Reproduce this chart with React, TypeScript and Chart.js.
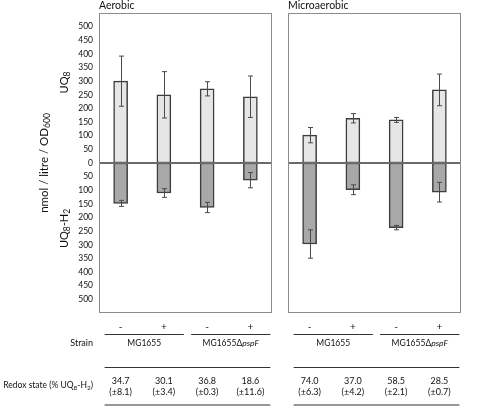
import React, { useEffect, useRef } from "react";
import { Chart, registerables } from "chart.js";

Chart.register(...registerables);

// ---------- data ----------
const panelTitles = ["Aerobic", "Microaerobic"];
const pivLabels = ["-", "+", "-", "+"];
const strainPlain = ["MG1655", "MG1655\u0394"];
const strainItalic = ["", "pspF"];

// nmol / litre / OD600 (UQ8 up, UQ8-H2 down)
const aerobicUQ8 = [300, 250, 272, 243];
const aerobicUQ8Err = [92, 85, 26, 76];
const aerobicUQ8H2 = [148, 110, 163, 63];
const aerobicUQ8H2Err = [11, 16, 19, 28];

const microUQ8 = [102, 164, 158, 268];
const microUQ8Err = [28, 17, 9, 58];
const microUQ8H2 = [297, 98, 237, 107];
const microUQ8H2Err = [52, 18, 8, 36];

// Redox state (% UQ8-H2)
const aerobicRedox = ["34.7", "30.1", "36.8", "18.6"];
const aerobicRedoxSd = ["(\u00b18.1)", "(\u00b13.4)", "(\u00b10.3)", "(\u00b111.6)"];
const microRedox = ["74.0", "37.0", "58.5", "28.5"];
const microRedoxSd = ["(\u00b16.3)", "(\u00b14.2)", "(\u00b12.1)", "(\u00b10.7)"];

const yLabelLimit = 500;
const yRange = 550;
const yStep = 50;

// ---------- styles ----------
const FONT = "Lato, 'Open Sans', sans-serif";
const TEXT = "#111111";
const LIGHT = "#e6e6e6";
const DARK = "#a8a8a8";
const EDGE = "#3c3c3c";

type Part = { t: string; sub?: boolean; it?: boolean };

function drawParts(
  ctx: CanvasRenderingContext2D,
  parts: Part[],
  x: number,
  y: number,
  size: number,
  align: "left" | "center" | "right"
) {
  const fontFor = (p: Part) =>
    `${p.it ? "italic " : ""}${p.sub ? Math.round(size * 0.75 * 2) / 2 : size}px ${FONT}`;
  let w = 0;
  parts.forEach((p) => {
    ctx.font = fontFor(p);
    w += ctx.measureText(p.t).width;
  });
  let cx = align === "left" ? x : align === "center" ? x - w / 2 : x - w;
  ctx.textAlign = "left";
  ctx.textBaseline = "middle";
  parts.forEach((p) => {
    ctx.font = fontFor(p);
    ctx.fillText(p.t, cx, p.sub ? y + size * 0.3 : y);
    cx += ctx.measureText(p.t).width;
  });
}

function drawRotated(
  ctx: CanvasRenderingContext2D,
  parts: Part[],
  x: number,
  y: number,
  size: number
) {
  ctx.save();
  ctx.translate(x, y);
  ctx.rotate(-Math.PI / 2);
  drawParts(ctx, parts, 0, 0, size, "center");
  ctx.restore();
}

function hLine(ctx: CanvasRenderingContext2D, x1: number, x2: number, y: number) {
  ctx.beginPath();
  ctx.moveTo(x1, y);
  ctx.lineTo(x2, y);
  ctx.stroke();
}

const marksPlugin = {
  id: "marks",
  afterDatasetsDraw(chart: any) {
    const { ctx, chartArea } = chart;
    const ys = chart.scales.y;
    ctx.save();
    // zero line
    const y0 = ys.getPixelForValue(0);
    ctx.strokeStyle = "#6a6a6a";
    ctx.lineWidth = 2;
    hLine(ctx, chartArea.left, chartArea.right, y0);
    // error bars
    ctx.strokeStyle = "#4a4a4a";
    ctx.lineWidth = 1;
    chart.data.datasets.forEach((ds: any, di: number) => {
      const meta = chart.getDatasetMeta(di);
      ds.data.forEach((v: number, i: number) => {
        const e = ds.errors[i];
        const x = Math.round(meta.data[i].x) + 0.5;
        const y1 = ys.getPixelForValue(v + e);
        const y2 = ys.getPixelForValue(v - e);
        ctx.beginPath();
        ctx.moveTo(x, y1);
        ctx.lineTo(x, y2);
        ctx.moveTo(x - 2.5, y1);
        ctx.lineTo(x + 2.5, y1);
        ctx.moveTo(x - 2.5, y2);
        ctx.lineTo(x + 2.5, y2);
        ctx.stroke();
      });
    });
    // panel frame
    ctx.strokeStyle = "#8c8c8c";
    ctx.lineWidth = 1;
    ctx.strokeRect(
      Math.round(chartArea.left) + 0.5,
      Math.round(chartArea.top) + 0.5,
      Math.round(chartArea.right - chartArea.left) - 1,
      Math.round(chartArea.bottom - chartArea.top) - 1
    );
    ctx.restore();
  },
};

function makeTablePlugin(panel: number, redox: string[], redoxSd: string[]) {
  return {
    id: "table" + panel,
    afterDraw(chart: any) {
      const { ctx, chartArea } = chart;
      const meta = chart.getDatasetMeta(0);
      const xs: number[] = meta.data.map((b: any) => b.x);
      ctx.save();
      ctx.fillStyle = TEXT;
      ctx.strokeStyle = "#333";
      ctx.lineWidth = 1.2;
      // panel title
      drawParts(ctx, [{ t: panelTitles[panel] }], chartArea.left, 5.5, 10.5, "left");
      // pIV row
      pivLabels.forEach((s, i) => drawParts(ctx, [{ t: s }], xs[i], 326.5, 10, "center"));
      // strain group lines and names
      for (let g = 0; g < 2; g++) {
        const a = xs[g * 2];
        const b = xs[g * 2 + 1];
        hLine(ctx, a - 16, b + 20, 334.5);
        const parts: Part[] = [{ t: strainPlain[g] }];
        if (strainItalic[g]) parts.push({ t: strainItalic[g], it: true });
        drawParts(ctx, parts, (a + b) / 2 + 2, 343.5, 8.5, "center");
      }
      // redox rows
      hLine(ctx, xs[0] - 16, xs[3] + 20, 367.5);
      redox.forEach((v, i) => {
        drawParts(ctx, [{ t: v }], xs[i], 381, 9, "center");
        drawParts(ctx, [{ t: redoxSd[i] }], xs[i], 392, 9, "center");
      });
      hLine(ctx, xs[0] - 16, xs[3] + 20, 405);

      const ys = chart.scales.y;
      if (panel === 0) {
        drawParts(ctx, [{ t: "Strain" }], 93, 343.5, 9, "right");
        drawParts(
          ctx,
          [{ t: "Redox state (% UQ" }, { t: "8", sub: true }, { t: "-H" }, { t: "2", sub: true }, { t: ")" }],
          93,
          385,
          8.5,
          "right"
        );
        drawRotated(
          ctx,
          [{ t: "nmol / litre / OD" }, { t: "600", sub: true }],
          44,
          ys.getPixelForValue(0),
          11.5
        );
        drawRotated(ctx, [{ t: "UQ" }, { t: "8", sub: true }], 64, ys.getPixelForValue(295), 11);
        drawRotated(
          ctx,
          [{ t: "UQ" }, { t: "8", sub: true }, { t: "-H" }, { t: "2", sub: true }],
          64,
          ys.getPixelForValue(-240),
          11
        );
      } else {
        drawParts(ctx, [{ t: "pIV" }], 465, 326.5, 9, "left");
      }
      ctx.restore();
    },
  };
}

function makeConfig(
  panel: number,
  up: number[],
  upErr: number[],
  down: number[],
  downErr: number[],
  redox: string[],
  redoxSd: string[],
  padding: { left: number; right: number; top: number; bottom: number },
  showAxis: boolean
): any {
  return {
    type: "bar",
    data: {
      labels: pivLabels.map((p, i) => `${i}${p}`),
      datasets: [
        {
          label: "UQ8",
          data: up,
          errors: upErr,
          backgroundColor: LIGHT,
          borderColor: EDGE,
          borderWidth: 1.5,
          borderSkipped: false,
          barThickness: 14,
          grouped: false,
        },
        {
          label: "UQ8-H2",
          data: down.map((v) => -v),
          errors: downErr,
          backgroundColor: DARK,
          borderColor: EDGE,
          borderWidth: 1.5,
          borderSkipped: false,
          barThickness: 14,
          grouped: false,
        },
      ],
    },
    options: {
      responsive: false,
      animation: false,
      devicePixelRatio: 1,
      layout: { padding },
      plugins: {
        legend: { display: false },
        tooltip: { enabled: false },
        title: { display: false },
      },
      scales: {
        x: { display: false },
        y: {
          display: showAxis,
          min: -yRange,
          max: yRange,
          afterFit: (scale: any) => {
            if (showAxis) scale.width = 99;
          },
          grid: { display: false, drawTicks: false },
          border: { display: false },
          ticks: {
            stepSize: yStep,
            autoSkip: false,
            padding: 6,
            color: TEXT,
            font: { family: FONT, size: 8.5 },
            callback: (v: number) => (Math.abs(v) > yLabelLimit ? "" : String(Math.abs(v))),
          },
        },
      },
    },
    plugins: [marksPlugin, makeTablePlugin(panel, redox, redoxSd)],
  };
}

export default function App() {
  const leftRef = useRef<HTMLCanvasElement | null>(null);
  const rightRef = useRef<HTMLCanvasElement | null>(null);

  useEffect(() => {
    const a = new Chart(
      leftRef.current as HTMLCanvasElement,
      makeConfig(
        0,
        aerobicUQ8,
        aerobicUQ8Err,
        aerobicUQ8H2,
        aerobicUQ8H2Err,
        aerobicRedox,
        aerobicRedoxSd,
        { left: 0, right: 8, top: 13, bottom: 93 },
        true
      )
    );
    const b = new Chart(
      rightRef.current as HTMLCanvasElement,
      makeConfig(
        1,
        microUQ8,
        microUQ8Err,
        microUQ8H2,
        microUQ8H2Err,
        microRedox,
        microRedoxSd,
        { left: 8, right: 22, top: 13, bottom: 93 },
        false
      )
    );
    return () => {
      a.destroy();
      b.destroy();
    };
  }, []);

  return (
    <div
      style={{
        position: "fixed",
        left: 0,
        top: 0,
        width: 483,
        height: 406,
        background: "#fff",
        overflow: "hidden",
      }}
    >
      <canvas
        ref={leftRef}
        width={280}
        height={406}
        style={{ position: "absolute", left: 0, top: 0, width: 280, height: 406 }}
      />
      <canvas
        ref={rightRef}
        width={203}
        height={406}
        style={{ position: "absolute", left: 280, top: 0, width: 203, height: 406 }}
      />
    </div>
  );
}
